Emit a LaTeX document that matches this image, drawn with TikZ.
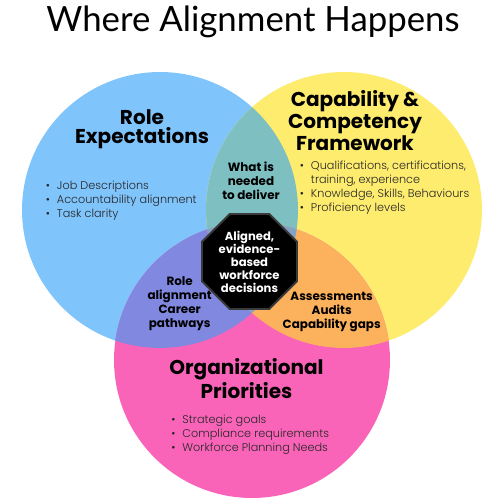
\documentclass[tikz,border=0pt]{standalone}
\usepackage{fontspec}
\setmainfont{Lato}
\newfontfamily\hfont{Poppins}
\newfontfamily\bfont{Poppins Light}
\usetikzlibrary{shapes.geometric}
\definecolor{cblue}{HTML}{80C4FC}
\definecolor{cyellow}{HTML}{FEEC6F}
\definecolor{cpink}{HTML}{F964B9}
\definecolor{cteal}{HTML}{7EBFC2}
\definecolor{cpurple}{HTML}{8088E0}
\definecolor{corange}{HTML}{FCB15D}
\definecolor{ctriple}{HTML}{83A2C6}
\definecolor{ctext}{HTML}{262626}
\definecolor{cborder}{HTML}{3A3A3A}
\tikzset{
  heading/.style={inner sep=0pt, align=center, font={\hfont\bfseries\fontsize{11.4}{11.1}\selectfont}, text=black},
  overlap/.style={inner sep=0pt, align=center, font={\hfont\bfseries\fontsize{6.8}{8.1}\selectfont}, text=black},
  blist/.style={inner sep=0pt, anchor=west, align=left, font={\bfont\fontsize{6.4}{8}\selectfont}, text=ctext},
  octa/.style={regular polygon, regular polygon sides=8, minimum size=2.056cm, fill=black, draw=cborder, line width=1.1pt, inner sep=0pt, align=center, text=white, font={\hfont\bfseries\fontsize{6.6}{7.4}\selectfont}}
}
\newcommand\rr{2.76cm}
\begin{document}
\begin{tikzpicture}[x=0.02cm,y=-0.02cm]
\useasboundingbox (0,0) rectangle (500,500);
\fill[white] (0,0) rectangle (500,500);
\coordinate (B) at (160,210);
\coordinate (Y) at (344,210);
\coordinate (P) at (252,360);
\fill[cblue] (B) circle (\rr);
\fill[cyellow] (Y) circle (\rr);
\fill[cpink] (P) circle (\rr);
\begin{scope}\clip (B) circle (\rr); \fill[cteal] (Y) circle (\rr); \end{scope}
\begin{scope}\clip (B) circle (\rr); \fill[cpurple] (P) circle (\rr); \end{scope}
\begin{scope}\clip (Y) circle (\rr); \fill[corange] (P) circle (\rr); \end{scope}
\begin{scope}\clip (B) circle (\rr); \clip (Y) circle (\rr); \fill[ctriple] (P) circle (\rr); \end{scope}

\node[anchor=base, inner sep=0pt, font={\fontsize{19.8}{24}\selectfont}] (title) at (253,32) {Where Alignment Happens};

\node[heading] (role) at (142,129.5) {Role\\Expectations};
\node[heading] (cap) at (355,120.5) {Capability \&\\Competency\\Framework};
\node[heading] (org) at (246.5,378.7) {Organizational\\Priorities};

\node[blist] (rolelist) at (45.5,201) {\begin{tabular}{@{}l@{\hspace{4pt}}l@{}}\textbullet & Job Descriptions\\ \textbullet & Accountability alignment\\ \textbullet & Task clarity\end{tabular}};
\node[blist] (caplist) at (299.5,188) {\begin{tabular}{@{}l@{\hspace{4pt}}l@{}}\textbullet & Qualifications, certifications,\\ & training, experience\\ \textbullet & Knowledge, Skills, Behaviours\\ \textbullet & Proficiency levels\end{tabular}};
\node[blist] (orglist) at (171,434.7) {\begin{tabular}{@{}l@{\hspace{4pt}}l@{}}\textbullet & Strategic goals\\ \textbullet & Compliance requirements\\ \textbullet & Workforce Planning Needs\end{tabular}};

\node[overlap] (need) at (251,181) {What is\\needed\\to deliver};
\node[overlap] (rolealign) at (179.7,303.7) {Role\\alignment\\Career\\pathways};
\node[overlap] (assess) at (331.7,311.7) {Assessments\\Audits\\Capability gaps};

\node[octa] (core) at (249.5,261.5) {Aligned,\\evidence-\\based\\workforce\\decisions};
\end{tikzpicture}
\end{document}
